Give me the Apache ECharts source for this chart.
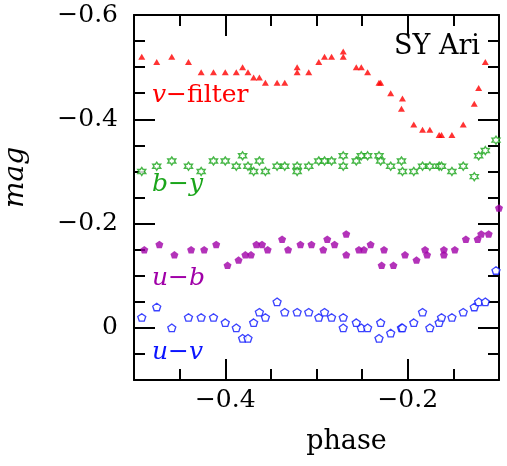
<!DOCTYPE html>
<html>
<head>
<meta charset="utf-8">
<script src="https://cdn.jsdelivr.net/npm/echarts@6/dist/echarts.min.js"></script>
<style>
  html, body { margin: 0; padding: 0; background: #fff; }
  #chart { width: 507px; height: 466px; }
</style>
</head>
<body>
<div id="chart"></div>
<script>
// v-filter (red triangles)
const vPhase = [-0.4915, -0.4751, -0.4586, -0.4403, -0.4264, -0.4129, -0.4000, -0.3879, -0.3810, -0.3751,
  -0.3689, -0.3626, -0.3560, -0.3432, -0.3348, -0.3212, -0.3212, -0.3085, -0.2975, -0.2912,
  -0.2835, -0.2707, -0.2707, -0.2564, -0.2509, -0.2440, -0.2315, -0.2297, -0.2187, -0.2058,
  -0.2069, -0.1934, -0.1838, -0.1758, -0.1656, -0.1630, -0.1516, -0.1392, -0.1271, -0.1223, -0.1150];
const vMag = [-0.52, -0.51, -0.52, -0.51, -0.49, -0.49, -0.49, -0.49, -0.50, -0.49,
  -0.48, -0.48, -0.47, -0.47, -0.47, -0.50, -0.49, -0.49, -0.51, -0.52,
  -0.52, -0.53, -0.52, -0.50, -0.50, -0.49, -0.47, -0.47, -0.45, -0.44,
  -0.42, -0.39, -0.38, -0.38, -0.37, -0.37, -0.37, -0.39, -0.43, -0.46, -0.51];

// b-y (green stars)
const byPhase = [-0.4915, -0.4751, -0.4586, -0.4403, -0.4264, -0.4129, -0.4000, -0.3879, -0.3810, -0.3751,
  -0.3689, -0.3626, -0.3560, -0.3432, -0.3348, -0.3212, -0.3212, -0.3085, -0.2975, -0.2912,
  -0.2835, -0.2707, -0.2707, -0.2564, -0.2509, -0.2440, -0.2315, -0.2297, -0.2187, -0.2069,
  -0.2058, -0.1934, -0.1838, -0.1758, -0.1656, -0.1630, -0.1516, -0.1392, -0.1271, -0.1223,
  -0.1150, -0.1033];
const byMag = [-0.30, -0.31, -0.32, -0.31, -0.30, -0.32, -0.32, -0.31, -0.33, -0.31,
  -0.30, -0.32, -0.30, -0.31, -0.31, -0.31, -0.30, -0.31, -0.32, -0.32,
  -0.32, -0.33, -0.31, -0.32, -0.33, -0.33, -0.33, -0.32, -0.31, -0.32,
  -0.30, -0.30, -0.31, -0.31, -0.31, -0.31, -0.30, -0.31, -0.29, -0.33,
  -0.34, -0.36];

// u-b (purple filled pentagons)
const ubPhase = [-0.4887, -0.4722, -0.4557, -0.4374, -0.4231, -0.4099, -0.3975, -0.3854, -0.3780, -0.3718,
  -0.3659, -0.3597, -0.3535, -0.3377, -0.3311, -0.3176, -0.3055, -0.2926, -0.2882, -0.2802,
  -0.2674, -0.2674, -0.2535, -0.2480, -0.2407, -0.2286, -0.2260, -0.2157, -0.2030, -0.1904,
  -0.1810, -0.1788, -0.1604, -0.1604, -0.1484, -0.1363, -0.1234, -0.1195, -0.1113, -0.1000];
const ubMag = [-0.15, -0.16, -0.14, -0.15, -0.15, -0.16, -0.12, -0.13, -0.14, -0.14,
  -0.16, -0.16, -0.15, -0.17, -0.15, -0.16, -0.16, -0.15, -0.17, -0.16,
  -0.18, -0.14, -0.15, -0.15, -0.16, -0.12, -0.15, -0.12, -0.14, -0.13,
  -0.15, -0.14, -0.15, -0.14, -0.15, -0.17, -0.17, -0.18, -0.18, -0.23];

// u-v (blue open pentagons)
const uvPhase = [-0.4915, -0.4751, -0.4586, -0.4403, -0.4264, -0.4129, -0.4000, -0.3879, -0.3810, -0.3751,
  -0.3689, -0.3626, -0.3560, -0.3432, -0.3348, -0.3212, -0.3085, -0.2975, -0.2912, -0.2835,
  -0.2707, -0.2707, -0.2564, -0.2509, -0.2440, -0.2315, -0.2297, -0.2187, -0.2069, -0.2058,
  -0.1934, -0.1838, -0.1758, -0.1656, -0.1630, -0.1516, -0.1392, -0.1271, -0.1223, -0.1150, -0.1033];
const uvMag = [-0.02, -0.04, 0.00, -0.02, -0.02, -0.02, -0.01, 0.00, 0.02, 0.02,
  -0.01, -0.03, -0.02, -0.05, -0.03, -0.03, -0.03, -0.02, -0.03, -0.02,
  -0.02, 0.00, -0.01, 0.00, 0.00, 0.02, -0.01, 0.01, 0.00, 0.00,
  -0.01, -0.03, 0.00, -0.01, -0.02, -0.02, -0.03, -0.04, -0.05, -0.05, -0.11];

const xLabels = [-0.4, -0.2];
const yLabels = [-0.6, -0.4, -0.2, 0];

const RED = '#ff0000', GREEN = '#1aa51a', PURPLE = '#a000a8', BLUE = '#0a14ff';
const FONT = 'DejaVu Serif';
const PENTAGON = 'path://M50,0 L97.6,34.5 L79.4,90.5 L20.6,90.5 L2.4,34.5 Z';
const HEXAGRAM = 'path://M50,0 L64.4,25 L93.3,25 L78.9,50 L93.3,75 L64.4,75 L50,100 L35.6,75 L6.7,75 L21.1,50 L6.7,25 L35.6,25 Z';

const zip = (a, b) => a.map((v, i) => [v, b[i]]);
const fmt = v => (v < 0 ? '\u2212' : '') + Math.abs(v).toString();
const pick = list => v => list.some(t => Math.abs(t - v) < 1e-6) ? fmt(+v.toFixed(2)) : '';

function xAx(pos, major, label) {
  return {
    type: 'value', position: pos, min: -0.5, max: -0.1, interval: 0.05,
    axisLine: {show: !major, onZero: false, lineStyle: {color: '#000', width: 2}},
    axisTick: major
      ? {inside: true, length: 21, lineStyle: {color: '#000', width: 2}, customValues: xLabels}
      : {inside: true, length: 11, lineStyle: {color: '#000', width: 2}},
    axisLabel: label
      ? {show: true, margin: 8, color: '#000', fontFamily: FONT, fontSize: 25, formatter: pick(xLabels)}
      : {show: false},
    splitLine: {show: false}
  };
}

function yAx(pos, major, label) {
  return {
    type: 'value', position: pos, inverse: true, min: -0.6, max: 0.1, interval: 0.05,
    axisLine: {show: !major, onZero: false, lineStyle: {color: '#000', width: 2}},
    axisTick: major
      ? {inside: true, length: 21, lineStyle: {color: '#000', width: 2}, customValues: yLabels}
      : {inside: true, length: 11, lineStyle: {color: '#000', width: 2}},
    axisLabel: label
      ? {show: true, margin: 16, color: '#000', fontFamily: FONT, fontSize: 25, formatter: pick(yLabels)}
      : {show: false},
    splitLine: {show: false}
  };
}

const xAxes = [xAx('bottom', false, true), xAx('bottom', true, false), xAx('top', false, false), xAx('top', true, false)];
xAxes[0].name = 'phase';
xAxes[0].nameLocation = 'middle';
xAxes[0].nameGap = 48;
xAxes[0].nameTextStyle = {color: '#000', fontFamily: FONT, fontSize: 27, padding: [0, 0, 0, 60]};

const yAxes = [yAx('left', false, true), yAx('left', true, false), yAx('right', false, false), yAx('right', true, false)];
yAxes[0].name = 'mag';
yAxes[0].nameLocation = 'middle';
yAxes[0].nameGap = 104;
yAxes[0].nameTextStyle = {color: '#000', fontFamily: FONT, fontSize: 28, fontStyle: 'italic', padding: [0, 0, 0, 40]};

function label(x, y, color, italicA, mid, italicB) {
  return {
    type: 'text', left: x, top: y,
    style: {
      text: '{i|' + italicA + '}{r|' + mid + '}' + (italicB ? '{i|' + italicB + '}' : ''),
      rich: {
        i: {fontFamily: FONT, fontSize: 25, fontStyle: 'italic', fill: color},
        r: {fontFamily: FONT, fontSize: 25, fill: color}
      }
    }
  };
}

const chart = echarts.init(document.getElementById('chart'), null, {renderer: 'canvas'});
chart.setOption({
  animation: false,
  backgroundColor: '#fff',
  grid: {left: 134, right: 8, top: 15, bottom: 86, containLabel: false, outerBoundsMode: 'none'},
  xAxis: xAxes,
  yAxis: yAxes,
  graphic: [
    label(152, 83, RED, 'v', '\u2212filter'),
    label(152, 172, GREEN, 'b', '\u2212', 'y'),
    label(152, 266, PURPLE, 'u', '\u2212', 'b'),
    label(152, 340, BLUE, 'u', '\u2212', 'v'),
    {type: 'text', left: 394, top: 33, style: {text: 'SY Ari', fontFamily: FONT, fontSize: 27, fill: '#000'}}
  ],
  series: [
    {
      name: 'v-filter', type: 'scatter', data: zip(vPhase, vMag), clip: false,
      symbol: 'triangle', symbolSize: [7, 6], itemStyle: {color: RED}
    },
    {
      name: 'b-y', type: 'scatter', data: zip(byPhase, byMag), clip: false,
      symbol: HEXAGRAM, symbolSize: [8, 8],
      itemStyle: {color: '#fff', borderColor: GREEN, borderWidth: 1.4}
    },
    {
      name: 'u-b', type: 'scatter', data: zip(ubPhase, ubMag), clip: false,
      symbol: PENTAGON, symbolSize: [8, 7.5], itemStyle: {color: PURPLE}
    },
    {
      name: 'u-v', type: 'scatter', data: zip(uvPhase, uvMag), clip: false,
      symbol: PENTAGON, symbolSize: [8, 7.5],
      itemStyle: {color: '#fff', borderColor: BLUE, borderWidth: 1.3}
    }
  ]
});
</script>
</body>
</html>
